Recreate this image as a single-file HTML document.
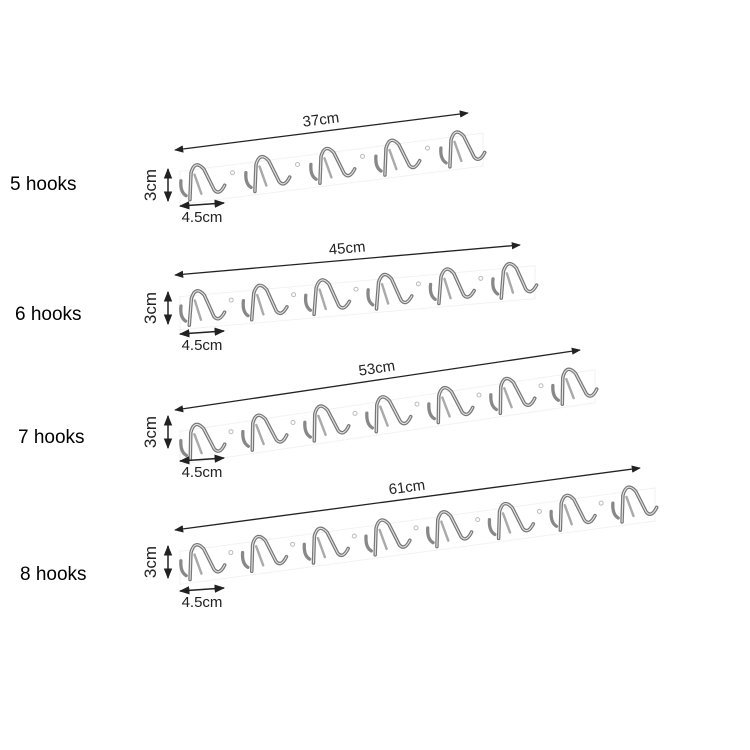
<!DOCTYPE html>
<html><head><style>
html,body{margin:0;padding:0;background:#fff;}
svg{display:block;}
.lab{font-family:"Liberation Sans",sans-serif;font-size:19px;fill:#000;}
.dim{font-family:"Liberation Sans",sans-serif;font-size:15px;fill:#222;}
.dim3{font-family:"Liberation Sans",sans-serif;font-size:17px;fill:#222;}
</style></head><body>
<svg id="s" width="750" height="750" viewBox="0 0 750 750" xmlns="http://www.w3.org/2000/svg">
<defs>
<marker id="a" viewBox="0 0 10 10" refX="9" refY="5" markerWidth="7" markerHeight="7" orient="auto-start-reverse"><path d="M0,1 L10,5 L0,9 z" fill="#222"/></marker>
<g id="hk" fill="none" stroke-linecap="round" transform="scale(1.1)">
<path d="M-17,-4 Q-19,6 -14,10" stroke="#888" stroke-width="3"/>
<path d="M-11,14 L-7,-10 Q-2,-22 5,-12 L12,8 Q16,14 22,5" stroke="#777" stroke-width="3.2"/>
<path d="M-11,14 L-7,-10 Q-2,-22 5,-12 L12,8 Q16,14 22,5" stroke="#e4e4e4" stroke-width="1"/>
<path d="M-4,-8 L0,10" stroke="#aaa" stroke-width="2.2"/>
</g>
</defs>
<text class="lab" x="10" y="190">5 hooks</text>
<text class="lab" x="15" y="320">6 hooks</text>
<text class="lab" x="18" y="443">7 hooks</text>
<text class="lab" x="20" y="580">8 hooks</text>
</svg>
<script>
var s=document.getElementById('s'),NS='http://www.w3.org/2000/svg';
function el(t,a,txt){var e=document.createElementNS(NS,t);for(var k in a)e.setAttribute(k,a[k]);if(txt)e.textContent=txt;s.appendChild(e);return e;}
var rows=[[175,150,468,113,5,'37cm',185,222],[175,275,520,245,6,'45cm',308,350],[175,410,580,350,7,'53cm',432,477],[175,530,640,468,8,'61cm',562,607]];
rows.forEach(function(r){
 var x1=r[0],y1=r[1],x2=r[2],y2=r[3],n=r[4],m=(y2-y1)/(x2-x1);
 var ang=Math.atan(m)*180/Math.PI;
 el('line',{x1:x1,y1:y1,x2:x2,y2:y2,stroke:'#222','stroke-width':1.3,'marker-start':'url(#a)','marker-end':'url(#a)'});
 var mx=(x1+x2)/2,my=y1+m*(mx-x1)-7;
 el('text',{'class':'dim',x:mx,y:my,'text-anchor':'middle',transform:'rotate('+ang+' '+mx+' '+my+')'},r[5]);
 var bx1=180,bx2=x2+15;
 el('path',{d:'M'+bx1+','+(y1+m*(bx1-x1)+22)+' L'+bx2+','+(y1+m*(bx2-x1)+22)+' L'+bx2+','+(y1+m*(bx2-x1)+55)+' L'+bx1+','+(y1+m*(bx1-x1)+55)+' z',fill:'none',stroke:'#f2f2f2','stroke-width':1});
 var sp=(x2-8-200)/(n-1);
 for(var i=0;i<n;i++){var hx=200+i*sp,hy=y1+m*(hx-x1)+36;
  el('use',{href:'#hk',transform:'translate('+hx+','+hy+') rotate('+ang+')'});
  if(i<n-1){var dx=hx+sp/2;el('circle',{cx:dx,cy:y1+m*(dx-x1)+30,r:2,fill:'none',stroke:'#bbb'});}
 }
 var c=r[6];
 el('line',{x1:168,y1:c-16,x2:168,y2:c+16,stroke:'#222','stroke-width':1.5,'marker-start':'url(#a)','marker-end':'url(#a)'});
 el('text',{'class':'dim3',x:150,y:c+6,'text-anchor':'middle',transform:'rotate(-90 150 '+c+')'},'3cm');
 var b=r[7];
 el('line',{x1:180,y1:b-16,x2:224,y2:b-19,stroke:'#222','stroke-width':1.5,'marker-start':'url(#a)','marker-end':'url(#a)'});
 el('text',{'class':'dim',x:202,y:b,'text-anchor':'middle'},'4.5cm');
});
</script>
</body></html>
